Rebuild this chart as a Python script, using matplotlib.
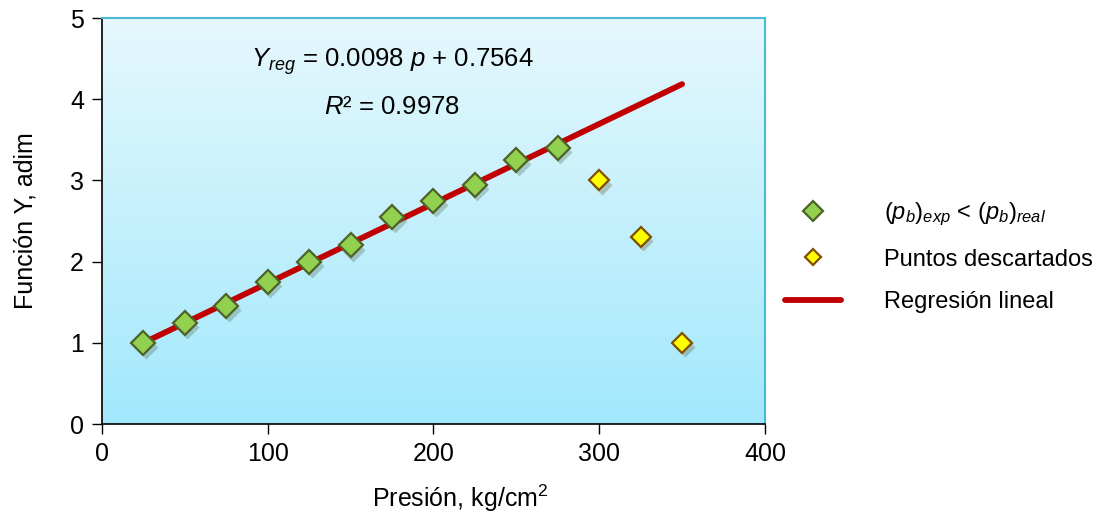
"""Funcion Y vs presion con regresion lineal."""

import numpy as np
import matplotlib.pyplot as plt
from matplotlib.colors import LinearSegmentedColormap

plt.rcParams["font.family"] = ["Liberation Sans", "DejaVu Sans"]
plt.rcParams["mathtext.fontset"] = "custom"
plt.rcParams["mathtext.rm"] = "Liberation Sans"
plt.rcParams["mathtext.it"] = "Liberation Sans:italic"

# Datos
p_ok = [25, 50, 75, 100, 125, 150, 175, 200, 225, 250, 275]
y_ok = [1.0, 1.25, 1.45, 1.75, 2.0, 2.2, 2.55, 2.75, 2.95, 3.25, 3.4]
p_desc = [300, 325, 350]
y_desc = [3.0, 2.3, 1.0]

# Regresion lineal
slope = 0.0098
intercept = 0.7564
r2 = 0.9978
p_reg = np.array([25, 350])
y_reg = slope * p_reg + intercept

x_ticks = [0, 100, 200, 300, 400]
y_ticks = [0, 1, 2, 3, 4, 5]

fig = plt.figure(figsize=(11.03, 5.16), dpi=100)
ax = fig.add_axes([0.0925, 0.178, 0.601, 0.787])

# Fondo degradado
cmap = LinearSegmentedColormap.from_list("bg", ["#a2e8fc", "#e6f8fd"])
grad = np.linspace(0, 1, 256).reshape(-1, 1)
ax.imshow(grad, cmap=cmap, origin="lower", aspect="auto",
          extent=[0, 400, 0, 5], zorder=0)

ax.plot(p_reg, y_reg, color="#c00000", linewidth=4.2, zorder=2,
        solid_capstyle="round", label="Regresión lineal")

# sombras
ax.plot(np.array(p_ok) + 1.5, np.array(y_ok) - 0.05, "D", ms=12,
        color="#5a7a60", alpha=0.35, mec="none", zorder=2)
ax.plot(np.array(p_desc) + 1.5, np.array(y_desc) - 0.05, "D", ms=10,
        color="#6b6a40", alpha=0.35, mec="none", zorder=2)

ax.plot(p_ok, y_ok, "D", ms=12, mfc="#92d050", mec="#4f6228", mew=1.6,
        linestyle="none", zorder=3, label=r"$(p_b)_{exp}$ < $(p_b)_{real}$")
ax.plot(p_desc, y_desc, "D", ms=10, mfc="#ffff00", mec="#7f4f00", mew=1.6,
        linestyle="none", zorder=3, label="Puntos descartados")

ax.set_xlim(0, 400)
ax.set_ylim(0, 5)
ax.set_xticks(x_ticks)
ax.set_yticks(y_ticks)
ax.tick_params(labelsize=18, length=7, width=1, direction="out", pad=6)

for side in ["top", "right"]:
    ax.spines[side].set_color("#4bb8d4")
    ax.spines[side].set_linewidth(1.5)
for side in ["left", "bottom"]:
    ax.spines[side].set_color("black")
    ax.spines[side].set_linewidth(1.2)

ax.set_xlabel("Presión, kg/cm$^2$", fontsize=18)
ax.xaxis.set_label_coords(0.54, -0.145)
ax.set_ylabel("Función Y, adim", fontsize=18)
ax.yaxis.set_label_coords(-0.097, 0.5)

ax.text(175, 4.46, r"$Y_{reg}$ = 0.0098 $p$ + 0.7564", fontsize=18.5,
        ha="center", va="center", zorder=4)
ax.text(175, 3.9, r"$R$² = 0.9978", fontsize=18.5,
        ha="center", va="center", zorder=4)

handles, labels = ax.get_legend_handles_labels()
order = [1, 2, 0]
leg = fig.legend([handles[i] for i in order], [labels[i] for i in order],
                 loc="center left", bbox_to_anchor=(0.692, 0.502),
                 frameon=False, fontsize=17, handlelength=2.4,
                 handletextpad=1.8, labelspacing=0.88, markerscale=0.85)

fig.savefig("out.png", dpi=100)
